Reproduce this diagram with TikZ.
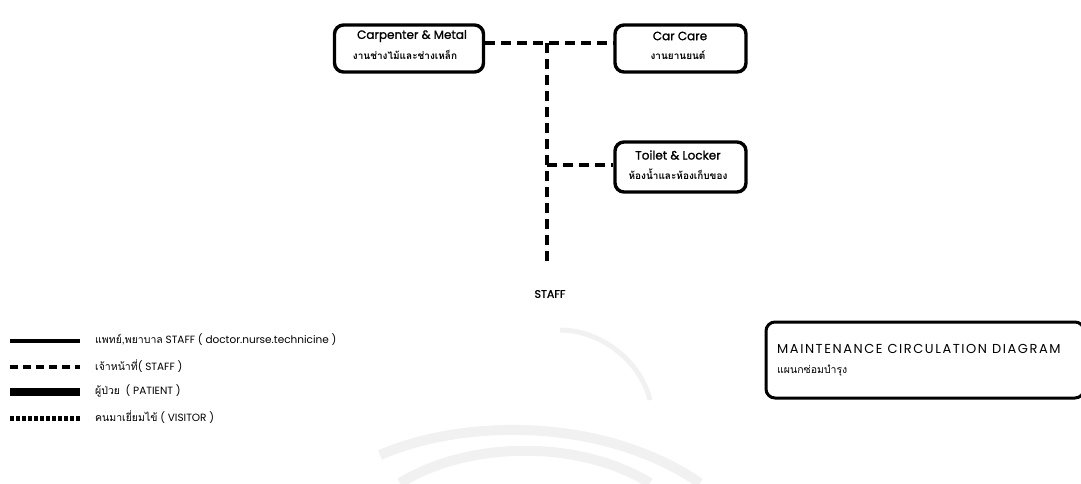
\documentclass[tikz,border=0pt]{standalone}
\usepackage{fontspec}
\setmainfont{Poppins}
\newfontfamily\heavy[FakeBold=1.2]{Poppins}
\newfontfamily\thai[Script=Thai]{Loma}
\begin{document}
\begin{tikzpicture}[x=1pt,y=-1pt,
  room/.style={draw=black, line width=3.4pt, rounded corners=9pt, inner sep=0pt},
  staffline/.style={line width=3.6pt, dash pattern=on 10pt off 6pt},
  legendtext/.style={anchor=west, font=\fontsize{10.5}{12}\selectfont, inner sep=0pt},
  roomtext/.style={font=\heavy\fontsize{12}{14}\selectfont, align=center, inner sep=0pt},
  roomthai/.style={font=\thai\bfseries\fontsize{10}{12}\selectfont, align=center, inner sep=0pt}
]
\useasboundingbox (0,0) rectangle (1081,483);

% faint emblem in the background
\begin{scope}[gray!11, line width=10pt]
  \draw (380,455) .. controls (460,420) and (600,415) .. (700,483);
  \draw (400,483) .. controls (470,440) and (580,440) .. (650,483);
  \draw[line width=5pt] (560,330) .. controls (600,330) and (640,360) .. (650,400);
\end{scope}

% rooms
\node[room, minimum width=149pt, minimum height=47pt] (carp) at (409,48.5) {};
\node[roomtext] at (412,36) {Carpenter \& Metal};
\node[roomthai] at (405,55) {งานช่างไม้และช่างเหล็ก};

\node[room, minimum width=131pt, minimum height=47pt] (car) at (680.5,48.5) {};
\node[roomtext] at (680,36) {Car Care};
\node[roomthai] at (678,55) {งานยานยนต์};

\node[room, minimum width=131pt, minimum height=50pt] (toil) at (680.5,167) {};
\node[roomtext] at (678,155) {Toilet \& Locker};
\node[roomthai] at (678,174) {ห้องน้ำและห้องเก็บของ};

% staff circulation
\coordinate (jtop) at (547,43);
\coordinate (jmid) at (547,165);
\node[roomtext, font=\heavy\fontsize{11}{13}\selectfont] (staff) at (550,294) {STAFF};
\coordinate (jbot) at (547,264);

\draw[staffline] (carp.east |- jtop) -- (car.west |- jtop);
\draw[staffline] (jtop) -- (jbot);
\draw[staffline] (jmid) -- (toil.west |- jmid);

% legend
\coordinate (l1) at (10,341);
\coordinate (l2) at (10,367);
\coordinate (l3) at (10,392);
\coordinate (l4) at (10,418);
\draw[line width=4pt] (l1) -- ++(70,0);
\draw[line width=4pt, dash pattern=on 8pt off 5pt] (l2) -- ++(70,0);
\draw[line width=8pt] (l3) -- ++(70,0);
\draw[line width=5pt, dash pattern=on 4pt off 2pt] (l4) -- ++(70,0);
\node[legendtext] at (95,340) {{\thai แพทย์,พยาบาล} STAFF ( doctor.nurse.technicine )};
\node[legendtext] at (95,366) {{\thai เจ้าหน้าที่}( STAFF )};
\node[legendtext] at (95,391) {{\thai ผู้ป่วย}\ \ ( PATIENT )};
\node[legendtext] at (95,417) {{\thai คนมาเยี่ยมไข้} ( VISITOR )};

% title box
\node[room, line width=3pt, minimum width=318pt, minimum height=76pt] (title) at (925,360) {};
\node[legendtext, font=\addfontfeature{LetterSpace=12}\fontsize{13}{15}\selectfont] at (777,349) {MAINTENANCE CIRCULATION DIAGRAM};
\node[legendtext] at (777,371) {\thai แผนกซ่อมบำรุง};
\end{tikzpicture}
\end{document}
